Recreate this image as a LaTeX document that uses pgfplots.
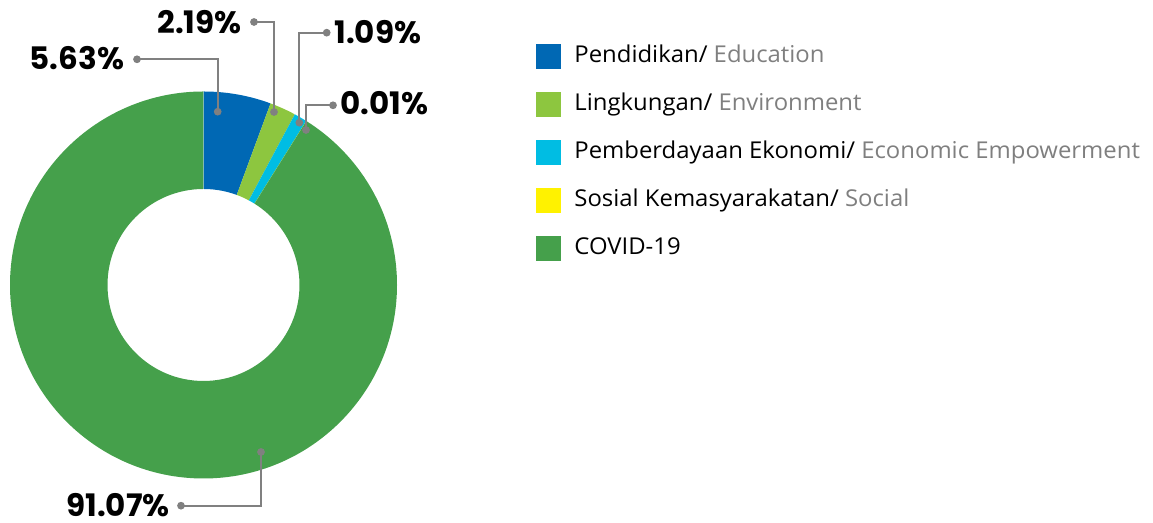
\documentclass[border=0pt]{standalone}
\usepackage{pgfplots}
\pgfplotsset{compat=1.18}
\usepackage{fontspec}
\setmainfont{Open Sans}[FakeStretch=1.03]
\newfontfamily\pctfont{Poppins}
\definecolor{cEdu}{HTML}{0068B4}
\definecolor{cEnv}{HTML}{8DC63F}
\definecolor{cEco}{HTML}{00BDE3}
\definecolor{cSoc}{HTML}{FFF200}
\definecolor{cCov}{HTML}{45A04B}
\definecolor{lead}{HTML}{808080}
\definecolor{sub}{HTML}{7F7F7F}
% data (percent)
\def\pEdu{5.63}
\def\pEnv{2.19}
\def\pEco{1.09}
\def\pSoc{0.01}
\def\pCov{91.07}
\pgfmathsetmacro\aEdu{90}
\pgfmathsetmacro\aEnv{\aEdu-3.6*\pEdu}
\pgfmathsetmacro\aEco{\aEnv-3.6*\pEnv}
\pgfmathsetmacro\aSoc{\aEco-3.6*\pEco}
\pgfmathsetmacro\aCov{\aSoc-3.6*\pSoc}
\pgfmathsetmacro\aEnd{\aCov-3.6*\pCov}
\tikzset{pct/.style={inner sep=0pt, font=\pctfont\bfseries\fontsize{15.5}{18}\selectfont}}
\pgfplotsset{leader/.style={data cs=cart, lead, line width=1pt, mark=*, mark size=1.4pt,
  mark indices={1,3}, mark options={fill=lead, draw=lead, solid}, forget plot}}
\begin{document}
\begin{tikzpicture}
\begin{axis}[
  scale only axis, width=576.5pt, height=261.5pt,
  xmin=-203.5, xmax=949.5, ymin=-238, ymax=285,
  hide axis, clip=false, data cs=polar,
  legend cell align=left,
  legend image code/.code={\fill[#1] (0pt,-6.25pt) rectangle (12.5pt,6.25pt);},
  legend style={at={(axis cs:332.5,241.7)}, anchor=north west, draw=none, fill=none,
    inner sep=0pt, column sep=6.5pt, row sep=11.55pt,
    font=\fontsize{11.6}{13.5}\selectfont,
    nodes={inner sep=0pt, text height=9.2pt, text depth=3.3pt}},
]
\coordinate (bbSW) at (rel axis cs:0,0);
\coordinate (bbNE) at (rel axis cs:1,1);
\begin{scope}[even odd rule]
\clip (0,0) circle[radius=193.5] (0,0) circle[radius=96];
\addplot[fill=cEdu, draw=none] coordinates {(0,0) (\aEdu,400) (\aEnv,400)};
\addlegendentry{Pendidikan/ \textcolor{sub}{Education}}
\addplot[fill=cEnv, draw=none] coordinates {(0,0) (\aEnv,400) (\aEco,400)};
\addlegendentry{Lingkungan/ \textcolor{sub}{Environment}}
\addplot[fill=cEco, draw=none] coordinates {(0,0) (\aEco,400) (\aSoc,400)};
\addlegendentry{Pemberdayaan Ekonomi/ \textcolor{sub}{Economic Empowerment}}
\addplot[fill=cSoc, draw=none] coordinates {(0,0) (\aSoc,400) (\aCov,400)};
\addlegendentry{Sosial Kemasyarakatan/ \textcolor{sub}{Social}}
\addplot[fill=cCov, draw=none] coordinates {(0,0) (\aCov,400) (0,400) (-90,400) (-180,400) (\aEnd,400)};
\addlegendentry{COVID-19}
\end{scope}
% leader lines
\addplot[leader] coordinates {(14.2,173.3) (14.2,225.7) (-66.5,225.7)};
\addplot[leader] coordinates {(70.5,173) (70.5,263) (50.5,263)};
\addplot[leader] coordinates {(95.8,162.3) (95.8,252.3) (123.2,252.3)};
\addplot[leader] coordinates {(102.5,155) (102.5,179.7) (129.5,179.7)};
\addplot[leader] coordinates {(57.5,-167) (57.5,-220.7) (-22.5,-220.7)};
\node[pct, anchor=base east] at (-79,215.7) {5.63\%};
\node[pct, anchor=base east] at (38.5,251) {2.19\%};
\node[pct, anchor=base west] at (130.5,241.7) {1.09\%};
\node[pct, anchor=base west] at (136.5,170) {0.01\%};
\node[pct, anchor=base east] at (-33.5,-231.8) {91.07\%};
\end{axis}
\pgfresetboundingbox
\path[use as bounding box] (bbSW) rectangle (bbNE);
\end{tikzpicture}
\end{document}
